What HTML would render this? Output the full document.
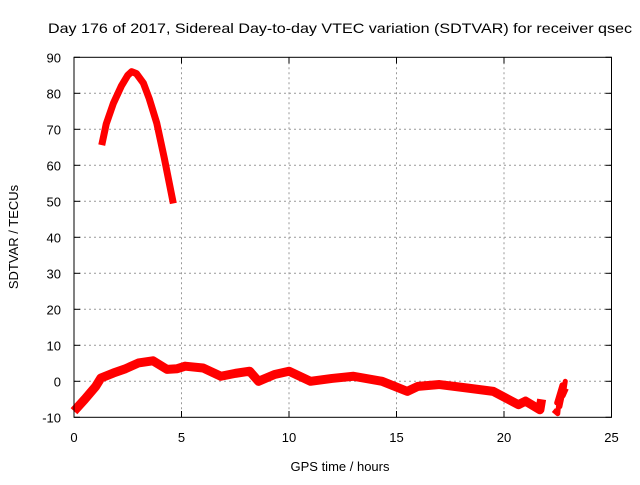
<!DOCTYPE html>
<html><head><meta charset="utf-8"><style>
body{margin:0;background:#fff;}
svg text{font-family:"Liberation Sans",sans-serif;font-size:13px;fill:#000;}
</style></head><body>
<svg width="640" height="480" xmlns="http://www.w3.org/2000/svg">
<rect width="640" height="480" fill="#fff"/>
<text x="48" y="33" style="font-size:14px" textLength="584" lengthAdjust="spacingAndGlyphs">Day 176 of 2017, Sidereal Day-to-day VTEC variation (SDTVAR) for receiver qsec</text>
<g id="grid"></g>
<g id="ticks"></g>
<g id="series"></g>
<rect x="74" y="57.3" width="537.5" height="360" fill="none" stroke="#000" stroke-width="1"/>
<text x="340" y="471" text-anchor="middle">GPS time / hours</text>
<text transform="translate(18,237) rotate(-90)" text-anchor="middle">SDTVAR / TECUs</text>
</svg>
<script>
const xTicks=[0,5,10,15,20,25];
const yTicks=[-10,0,10,20,30,40,50,60,70,80,90];
const upperHours=[1.29,1.5,1.83,2.2,2.5,2.68,2.9,3.23,3.5,3.85,4.2,4.62];
const upperValues=[65.6,71.5,77.2,82,85,86,85.5,82.8,78.5,71.7,62,49.4];
const lowerHours=[0,0.5,1.0,1.25,1.83,2.4,3.0,3.67,4.33,4.8,5.17,6,6.83,7.5,8.17,8.58,9.33,10,11,12,13,14.33,15.5,16,17,18.33,19.5,20.67,21,21.67,21.75];
const lowerValues=[-8.3,-5,-1.5,0.9,2.3,3.5,5.1,5.7,3.3,3.5,4.2,3.7,1.4,2.2,2.8,0,1.9,2.8,0,0.8,1.4,0,-2.8,-1.4,-0.9,-1.9,-2.8,-6.5,-5.5,-7.9,-5];
const tailHours=[22.3,22.5,22.6,22.45,22.7,22.6,22.85,22.75,22.9];
const tailValues=[-8,-9,-3,-6,-1,-7,0,-4,-2];
const X=h=>74+h*21.5;
const Y=v=>381.3-v*3.6;
const NS="http://www.w3.org/2000/svg";
const grid=document.getElementById('grid'),ticks=document.getElementById('ticks'),series=document.getElementById('series');
function mk(tag,attrs,parent){const e=document.createElementNS(NS,tag);for(const k in attrs)e.setAttribute(k,attrs[k]);parent.appendChild(e);return e;}
xTicks.forEach(t=>{
 if(t>0&&t<25){const g=mk('line',{x1:X(t),x2:X(t),y1:57.3,y2:417.3,stroke:'#999','stroke-dasharray':'2,3'},grid);
 
 }
 const a=mk('line',{x1:X(t),x2:X(t),y1:417.3,y2:411,stroke:'#000'},ticks);
 
 
 const b=mk('line',{x1:X(t),x2:X(t),y1:57.3,y2:63.5,stroke:'#000'},ticks);
 
 
 const l=mk('text',{x:X(t),y:442,'text-anchor':'middle'},ticks);l.textContent=t;
 
 
});
yTicks.forEach(t=>{
 if(t>-10&&t<90){const g=mk('line',{x1:74,x2:611.5,y1:Y(t),y2:Y(t),stroke:'#999','stroke-dasharray':'2,3'},grid);
 
 }
 const a=mk('line',{x1:74,x2:80,y1:Y(t),y2:Y(t),stroke:'#000'},ticks);
 
 
 const b=mk('line',{x1:605.5,x2:611.5,y1:Y(t),y2:Y(t),stroke:'#000'},ticks);
 
 
 const l=mk('text',{x:61,y:Y(t)+5,'text-anchor':'end'},ticks);l.textContent=t;
 
 
});
function line(hs,vs,w,name){
 const p=mk('polyline',{points:hs.map((h,i)=>X(h)+','+Y(vs[i])).join(' '),fill:'none',stroke:'#f00','stroke-width':w,'stroke-linejoin':'round','stroke-linecap':'butt'},series);
 
 
}
line(upperHours,upperValues,7,'upper-arc-series');
line(lowerHours,lowerValues,9,'lower-series');
line(tailHours,tailValues,5,'tail-series');
</script>
</body></html>
